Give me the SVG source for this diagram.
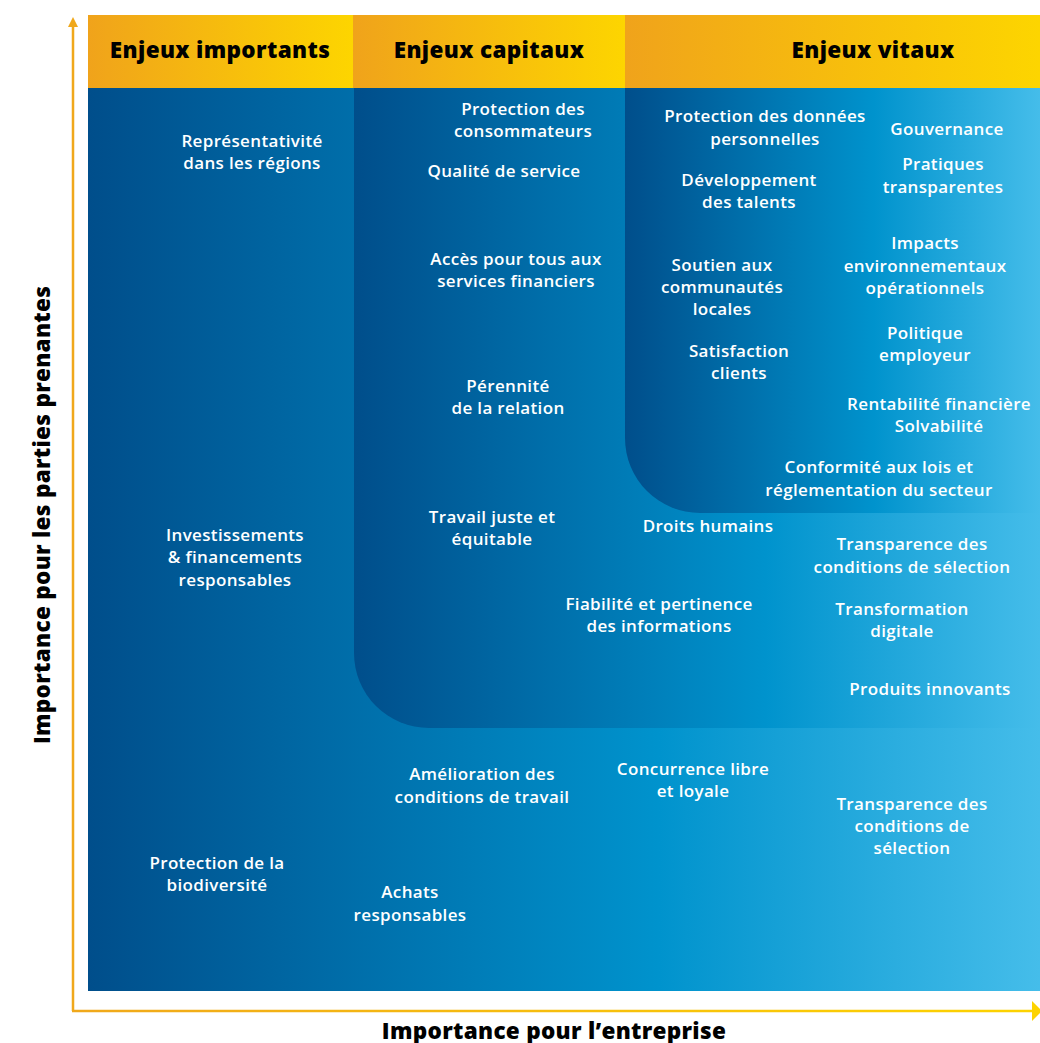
<svg xmlns="http://www.w3.org/2000/svg" width="1040" height="1043" viewBox="0 0 1040 1043">
<defs>
<linearGradient id="blue" x1="0" y1="0" x2="1" y2="0">
<stop offset="0" stop-color="#004e8b"/>
<stop offset="0.6" stop-color="#0093cd"/>
<stop offset="1" stop-color="#45bdea"/>
</linearGradient>
<linearGradient id="gold" x1="0" y1="0" x2="1" y2="0">
<stop offset="0" stop-color="#f0a31b"/>
<stop offset="1" stop-color="#fdd500"/>
</linearGradient>
<linearGradient id="axisx" gradientUnits="userSpaceOnUse" x1="72" y1="0" x2="1040" y2="0">
<stop offset="0" stop-color="#f0a81b"/>
<stop offset="1" stop-color="#fdd300"/>
</linearGradient>
<marker id="ahy" viewBox="0 0 10 10" refX="0" refY="5" markerWidth="10" markerHeight="10" markerUnits="userSpaceOnUse" orient="auto">
<path d="M0,0 L0,10 L10,5 Z" fill="#f0a81b"/>
</marker>
</defs>
<style>
.lbl{font-family:"Open Sans","Noto Sans",sans-serif;font-weight:600;font-size:17px;letter-spacing:0.35px;fill:#ffffff;text-anchor:middle}
.hdr{font-family:"Open Sans","Noto Sans",sans-serif;font-weight:800;font-size:22.5px;letter-spacing:0.35px;fill:#000000;text-anchor:middle}
.axl{font-family:"Open Sans","Noto Sans",sans-serif;font-weight:800;font-size:22.5px;letter-spacing:0.3px;fill:#000000;text-anchor:middle}
</style>
<rect width="1040" height="1043" fill="#ffffff"/>
<g id="background">
<rect x="88" y="88" width="952" height="903" fill="url(#blue)"/>
<path id="zone-capitaux" d="M354,88 H1040 V728 H429 A75,75 0 0 1 354,653 Z" fill="url(#blue)"/>
<path id="zone-vitaux" d="M625,88 H1040 V513 H700 A75,75 0 0 1 625,438 Z" fill="url(#blue)"/>
</g>
<g id="headers">
<g id="h-importants"><rect x="88" y="15" width="265" height="73" fill="url(#gold)"/><text class="hdr" x="220" y="58">Enjeux importants</text></g>
<g id="h-capitaux"><rect x="353" y="15" width="272" height="73" fill="url(#gold)"/><text class="hdr" x="489" y="58">Enjeux capitaux</text></g>
<g id="h-vitaux"><rect x="625" y="15" width="415" height="73" fill="url(#gold)"/><text class="hdr" x="873" y="58">Enjeux vitaux</text></g>
</g>
<g id="connectors">
<line x1="73" y1="1011" x2="73" y2="27" stroke="#f0a81b" stroke-width="2.5" marker-end="url(#ahy)"/>
<line x1="72" y1="1011" x2="1032" y2="1011" stroke="url(#axisx)" stroke-width="2.5"/>
<path d="M1032,1001 L1042,1011 L1032,1021 Z" fill="#fdd300"/>
</g>
<g id="axis-labels">
<text class="axl" x="554" y="1039">Importance pour l’entreprise</text>
<text class="axl" transform="translate(50,515) rotate(-90)" x="0" y="0">Importance pour les parties prenantes</text>
</g>
<g id="n1"><text class="lbl" x="252" y="147">Représentativité</text><text class="lbl" x="252" y="169">dans les régions</text></g>
<g id="n2"><text class="lbl" x="523" y="115">Protection des</text><text class="lbl" x="523" y="137">consommateurs</text></g>
<g id="n3"><text class="lbl" x="504" y="177">Qualité de service</text></g>
<g id="n4"><text class="lbl" x="516" y="265">Accès pour tous aux</text><text class="lbl" x="516" y="287">services financiers</text></g>
<g id="n5"><text class="lbl" x="508" y="392">Pérennité</text><text class="lbl" x="508" y="414">de la relation</text></g>
<g id="n6"><text class="lbl" x="492" y="523">Travail juste et</text><text class="lbl" x="492" y="545">équitable</text></g>
<g id="n7"><text class="lbl" x="235" y="541">Investissements</text><text class="lbl" x="235" y="563">&amp; financements</text><text class="lbl" x="235" y="586">responsables</text></g>
<g id="n8"><text class="lbl" x="765" y="122">Protection des données</text><text class="lbl" x="765" y="145">personnelles</text></g>
<g id="n9"><text class="lbl" x="947" y="135">Gouvernance</text></g>
<g id="n10"><text class="lbl" x="943" y="170">Pratiques</text><text class="lbl" x="943" y="193">transparentes</text></g>
<g id="n11"><text class="lbl" x="749" y="186">Développement</text><text class="lbl" x="749" y="208">des talents</text></g>
<g id="n12"><text class="lbl" x="925" y="249">Impacts</text><text class="lbl" x="925" y="272">environnementaux</text><text class="lbl" x="925" y="294">opérationnels</text></g>
<g id="n13"><text class="lbl" x="722" y="271">Soutien aux</text><text class="lbl" x="722" y="293">communautés</text><text class="lbl" x="722" y="315">locales</text></g>
<g id="n14"><text class="lbl" x="925" y="339">Politique</text><text class="lbl" x="925" y="361">employeur</text></g>
<g id="n15"><text class="lbl" x="739" y="357">Satisfaction</text><text class="lbl" x="739" y="379">clients</text></g>
<g id="n16"><text class="lbl" x="939" y="410">Rentabilité financière</text><text class="lbl" x="939" y="432">Solvabilité</text></g>
<g id="n17"><text class="lbl" x="879" y="473">Conformité aux lois et</text><text class="lbl" x="879" y="496">réglementation du secteur</text></g>
<g id="n18"><text class="lbl" x="708" y="532">Droits humains</text></g>
<g id="n19"><text class="lbl" x="912" y="550">Transparence des</text><text class="lbl" x="912" y="573">conditions de sélection</text></g>
<g id="n20"><text class="lbl" x="659" y="610">Fiabilité et pertinence</text><text class="lbl" x="659" y="632">des informations</text></g>
<g id="n21"><text class="lbl" x="902" y="615">Transformation</text><text class="lbl" x="902" y="637">digitale</text></g>
<g id="n22"><text class="lbl" x="930" y="695">Produits innovants</text></g>
<g id="n23"><text class="lbl" x="482" y="780">Amélioration des</text><text class="lbl" x="482" y="803">conditions de travail</text></g>
<g id="n24"><text class="lbl" x="693" y="775">Concurrence libre</text><text class="lbl" x="693" y="797">et loyale</text></g>
<g id="n25"><text class="lbl" x="912" y="810">Transparence des</text><text class="lbl" x="912" y="832">conditions de</text><text class="lbl" x="912" y="854">sélection</text></g>
<g id="n26"><text class="lbl" x="217" y="869">Protection de la</text><text class="lbl" x="217" y="891">biodiversité</text></g>
<g id="n27"><text class="lbl" x="410" y="898">Achats</text><text class="lbl" x="410" y="921">responsables</text></g>
</svg>
